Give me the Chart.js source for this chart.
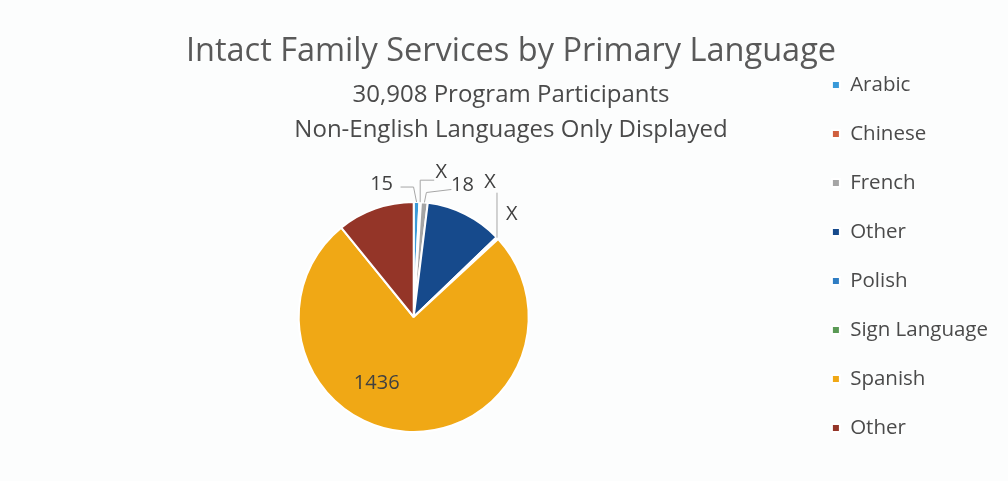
<!DOCTYPE html>
<html>
<head>
<meta charset="utf-8">
<script src="https://cdn.jsdelivr.net/npm/chart.js@4.4.1/dist/chart.umd.min.js"></script>
<style>
  html, body { margin: 0; padding: 0; background: #fcfdfd; }
  #wrap { width: 1008px; height: 481px; position: relative; }
</style>
</head>
<body>
<div id="wrap"><canvas id="c" width="1008" height="481"></canvas></div>
<script>
// ---- data ----
const titleText = "Intact Family Services by Primary Language";
const subtitleLines = ["30,908 Program Participants", "Non-English Languages Only Displayed"];
const categories = ["Arabic", "Chinese", "French", "Other", "Polish", "Sign Language", "Spanish", "Other"];
// suppressed (X) counts are estimated from slice size
const values = [15, 4, 18, 205, 3, 3, 1436, 205];
const suppressed = [false, true, false, false, true, true, false, false];
const showLabel = [true, true, true, false, true, true, true, false];
const colors = ["#3a9ad9", "#d0603f", "#a5a5a5", "#164a8c", "#2f7dc3", "#5a9a55", "#f0a815", "#943528"];

// ---- label layout (offsets from each slice's outer mid point) ----
const labelLayout = [
  {dx: -35, dy: -18, leader: [[-16, -15], [-3, -15]]},
  {dx: 21, dy: -30, leader: [[14, -22], [0, -22]]},
  {dx: 38, dy: -17, leader: [[27, -13], [2, -10]]},
  null,
  {dx: -7, dy: -55, leader: [[0, -45]]},
  {dx: 14, dy: -24, leader: null},
  {inside: true, x: -37, y: 66},
  null
];

const FONT = '"Open Sans", Lato, sans-serif';

const labelPlugin = {
  id: 'sliceLabels',
  afterDatasetsDraw(chart) {
    const ctx = chart.ctx;
    const meta = chart.getDatasetMeta(0);
    ctx.save();
    ctx.font = '20px ' + FONT;
    ctx.fillStyle = '#404040';
    ctx.textAlign = 'center';
    ctx.textBaseline = 'middle';
    meta.data.forEach((arc, i) => {
      if (!showLabel[i]) return;
      const lay = labelLayout[i];
      if (!lay) return;
      const p = arc.getProps(['x', 'y', 'startAngle', 'endAngle', 'outerRadius'], true);
      const text = suppressed[i] ? 'X' : String(values[i]);
      if (lay.inside) {
        ctx.fillText(text, p.x + lay.x, p.y + lay.y);
        return;
      }
      const mid = (p.startAngle + p.endAngle) / 2;
      const ax = p.x + Math.cos(mid) * p.outerRadius;
      const ay = p.y + Math.sin(mid) * p.outerRadius;
      if (lay.leader) {
        ctx.save();
        ctx.strokeStyle = '#a6a6a6';
        ctx.lineWidth = 1;
        ctx.beginPath();
        ctx.moveTo(ax + lay.leader[0][0], ay + lay.leader[0][1]);
        for (let k = 1; k < lay.leader.length; k++) ctx.lineTo(ax + lay.leader[k][0], ay + lay.leader[k][1]);
        ctx.lineTo(ax, ay);
        ctx.stroke();
        ctx.restore();
      }
      ctx.fillText(text, ax + lay.dx, ay + lay.dy);
    });
    ctx.restore();
  }
};

new Chart(document.getElementById('c'), {
  type: 'pie',
  data: {
    labels: categories,
    datasets: [{
      data: values,
      backgroundColor: colors,
      borderColor: '#ffffff',
      borderWidth: 2,
      radius: 115
    }]
  },
  options: {
    responsive: false,
    animation: false,
    layout: { padding: { top: 32, left: 24, right: 10, bottom: 0 } },
    plugins: {
      title: {
        display: true,
        text: titleText,
        color: '#595959',
        font: { family: FONT, size: 32.5, weight: 'normal', lineHeight: 36 / 32.5 },
        padding: { top: 2, bottom: 0 }
      },
      subtitle: {
        display: true,
        text: subtitleLines,
        color: '#4a4a4a',
        font: { family: FONT, size: 24, weight: 'normal', lineHeight: 35 / 24 },
        padding: { top: 7.5, bottom: 5.5 }
      },
      legend: {
        position: 'right',
        align: 'center',
        labels: {
          color: '#4a4a4a',
          font: { family: FONT, size: 20.5 },
          boxWidth: 8,
          boxHeight: 8,
          padding: 28.5
        }
      },
      tooltip: { enabled: false }
    }
  },
  plugins: [labelPlugin]
});
</script>
</body>
</html>
